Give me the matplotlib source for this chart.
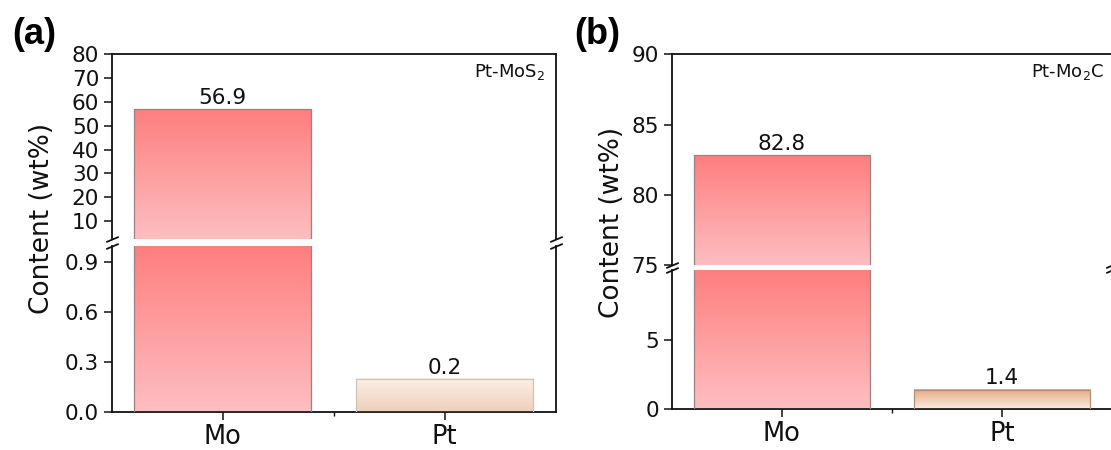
import numpy as np
import matplotlib
matplotlib.use("Agg")
import matplotlib.pyplot as plt
from matplotlib.colors import LinearSegmentedColormap

plt.rcParams['font.family'] = ['DejaVu Sans']
plt.rcParams['mathtext.fontset'] = 'dejavusans'

# ---- data ----
elements = ["Mo", "Pt"]
mos2_content = [56.9, 0.2]
mo2c_content = [82.8, 1.4]
mos2_name = r"Pt-MoS$_\mathregular{2}$"
mo2c_name = r"Pt-Mo$_\mathregular{2}$C"

mos2_upper_ticks = [10, 20, 30, 40, 50, 60, 70, 80]
mos2_lower_ticks = [0.0, 0.3, 0.6, 0.9]
mo2c_upper_ticks = [75, 80, 85, 90]
mo2c_lower_ticks = [0, 5]

# ---- styling ----
MO_GRAD = ("#FF7E7E", "#FDBEC1")          # top, bottom
PT_GRAD_A = ("#FDF0E5", "#EDCFBB")
PT_GRAD_B = ("#E4AA82", "#FDEDE0")
MO_EDGE = "#9E8080"
PT_EDGE_A = "#CBC3BC"
PT_EDGE_B = "#B48E76"
BAR_W = 0.8
SPINE_W = 1.3
INK = "#111111"

W, H = 1111, 450
fig = plt.figure(figsize=(W / 100, H / 100), dpi=100)


def px_axes(left, top, right, bottom):
    return fig.add_axes([left / W, 1 - bottom / H, (right - left) / W, (bottom - top) / H])


def gradient_bar(ax, x, value, top_c, bot_c, edge, lo, hi):
    ax.bar(x, value, BAR_W, facecolor="none", edgecolor=edge, linewidth=0.9, zorder=3)
    y_top = min(value, hi)
    y_bot = max(0.0, lo)
    if y_top <= y_bot:
        return
    cmap = LinearSegmentedColormap.from_list("grad", [bot_c, top_c])
    grad = np.linspace(0, 1, 256).reshape(-1, 1)
    ax.imshow(grad, cmap=cmap, extent=[x - BAR_W / 2, x + BAR_W / 2, y_bot, y_top],
              origin="lower", aspect="auto", zorder=2, interpolation="bilinear")


def style_axes(ax, ylim, yticks, fmt, is_lower):
    ax.set_xlim(-0.5, 1.5)
    ax.set_ylim(*ylim)
    ax.set_yticks(yticks)
    ax.set_yticklabels([fmt.format(t) for t in yticks])
    for s in ax.spines.values():
        s.set_linewidth(SPINE_W)
        s.set_color(INK)
    ax.tick_params(axis="y", direction="out", length=6, width=1.1, labelsize=15.5, pad=3,
                   right=False, colors=INK)
    if is_lower:
        ax.spines["top"].set_visible(False)
        ax.set_xticks([0, 1])
        ax.set_xticklabels(elements)
        ax.set_xticks([0.5], minor=True)
        ax.tick_params(axis="x", which="major", direction="out", length=5.5, width=1.1,
                       labelsize=18.5, pad=3, colors=INK)
        ax.tick_params(axis="x", which="minor", direction="out", length=3, width=1.0,
                       colors=INK)
    else:
        ax.spines["bottom"].set_visible(False)
        ax.set_xticks([])


def break_marks(ax_up, ax_lo):
    kw = dict(marker=[(-1, -0.42), (1, 0.42)], markersize=9, linestyle="none",
              color=INK, mec=INK, mew=1.3, clip_on=False, zorder=10)
    ax_up.plot([0, 1], [0, 0], transform=ax_up.transAxes, **kw)
    ax_lo.plot([0, 1], [1, 1], transform=ax_lo.transAxes, **kw)


def panel(values, pt_grad, pt_edge, up_box, lo_box, up_lim, lo_lim,
          up_ticks, lo_ticks, fmt_up, fmt_lo, name, name_xy):
    ax_up = px_axes(*up_box)
    ax_lo = px_axes(*lo_box)
    grads = [MO_GRAD, pt_grad]
    edges = [MO_EDGE, pt_edge]
    for ax, lim in ((ax_up, up_lim), (ax_lo, lo_lim)):
        for i, v in enumerate(values):
            gradient_bar(ax, i, v, grads[i][0], grads[i][1], edges[i], lim[0], lim[1])
    style_axes(ax_up, up_lim, up_ticks, fmt_up, False)
    style_axes(ax_lo, lo_lim, lo_ticks, fmt_lo, True)
    for i, v in enumerate(values):
        ax = ax_up if v > lo_lim[1] else ax_lo
        ax.annotate(f"{v}", (i, v), xytext=(0, 1.0), textcoords="offset points",
                    ha="center", va="bottom", fontsize=15.5, color=INK, zorder=5)
    break_marks(ax_up, ax_lo)
    fig.text(name_xy[0] / W, 1 - name_xy[1] / H, name, ha="right", va="center",
             fontsize=13, color=INK)
    return ax_up, ax_lo


# (a) Pt-MoS2
panel(mos2_content, PT_GRAD_A, PT_EDGE_A,
      (111.7, 54.3, 555.5, 239.3), (111.7, 245.7, 555.5, 412.3),
      (2.3, 80), (0, 1.0), mos2_upper_ticks, mos2_lower_ticks, "{:.0f}", "{:.1f}",
      mos2_name, (545, 72))

# (b) Pt-Mo2C
panel(mo2c_content, PT_GRAD_B, PT_EDGE_B,
      (671.5, 54.3, 1112, 264.9), (671.5, 270.0, 1112, 409.3),
      (75, 90), (0, 10), mo2c_upper_ticks, mo2c_lower_ticks, "{:.0f}", "{:.0f}",
      mo2c_name, (1104, 72))

for x, y in ((42, 218), (612, 222)):
    fig.text(x / W, 1 - y / H, "Content (wt%)", rotation=90, ha="center", va="center",
             fontsize=19, color=INK)

fig.text(34 / W, 1 - 35 / H, "(a)", ha="center", va="center", fontsize=26,
         fontweight="bold", family="Liberation Sans")
fig.text(597 / W, 1 - 35 / H, "(b)", ha="center", va="center", fontsize=26,
         fontweight="bold", family="Liberation Sans")

fig.savefig("out.png", dpi=100)
